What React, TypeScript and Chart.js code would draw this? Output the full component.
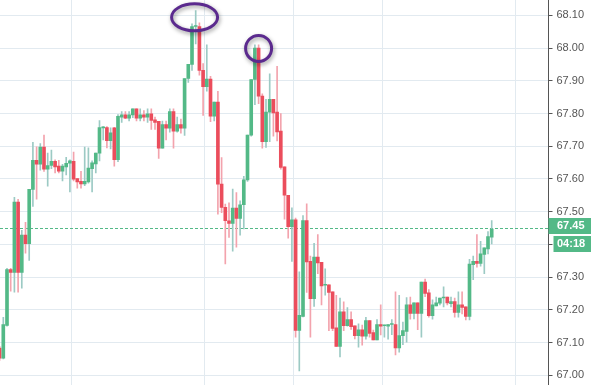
import React, { useEffect, useRef } from "react";
import { Chart, registerables } from "chart.js";

Chart.register(...registerables);

const opens = [
  67.083, 67.052, 67.152, 67.323, 67.314, 67.529, 67.314, 67.428, 67.402, 67.568,
  67.657, 67.645, 67.697, 67.630, 67.641, 67.654, 67.639, 67.624, 67.637, 67.648,
  67.654, 67.601, 67.593, 67.585, 67.591, 67.631, 67.646, 67.679, 67.756, 67.757,
  67.717, 67.756, 67.659, 67.789, 67.796, 67.786, 67.796, 67.814, 67.786, 67.796,
  67.789, 67.799, 67.781, 67.776, 67.694, 67.766, 67.755, 67.806, 67.746, 67.766,
  67.755, 67.907, 67.950, 68.066, 68.066, 67.932, 67.882, 67.905, 67.792, 67.835,
  67.584, 67.513, 67.472, 67.464, 67.511, 67.479, 67.521, 67.597, 67.734, 67.904,
  68.000, 67.853, 67.714, 67.804, 67.843, 67.804, 67.746, 67.637, 67.550, 67.454,
  67.475, 67.137, 67.180, 67.473, 67.348, 67.234, 67.361, 67.345, 67.275, 67.276,
  67.255, 67.145, 67.088, 67.194, 67.151, 67.170, 67.151, 67.121, 67.139, 67.119,
  67.167, 67.130, 67.108, 67.155, 67.151, 67.150, 67.155, 67.155, 67.083, 67.121,
  67.134, 67.215, 67.189, 67.221, 67.189, 67.285, 67.252, 67.182, 67.212, 67.220,
  67.236, 67.239, 67.219, 67.225, 67.192, 67.215, 67.209, 67.180, 67.338, 67.348,
  67.342, 67.369, 67.386, 67.422,
];

const highs = [
  67.088, 67.177, 67.327, 67.327, 67.544, 67.538, 67.443, 67.467, 67.568, 67.712,
  67.698, 67.708, 67.734, 67.679, 67.688, 67.658, 67.657, 67.645, 67.666, 67.658,
  67.682, 67.601, 67.623, 67.697, 67.695, 67.655, 67.679, 67.778, 67.760, 67.760,
  67.756, 67.758, 67.797, 67.806, 67.806, 67.806, 67.814, 67.814, 67.814, 67.809,
  67.814, 67.814, 67.789, 67.776, 67.777, 67.777, 67.814, 67.814, 67.789, 67.783,
  67.907, 67.950, 68.074, 68.115, 68.077, 67.953, 68.010, 67.914, 67.835, 67.868,
  67.665, 67.523, 67.527, 67.569, 67.558, 67.533, 67.608, 67.734, 67.904, 68.010,
  68.010, 67.860, 67.843, 67.921, 67.843, 67.944, 67.800, 67.637, 67.550, 67.512,
  67.480, 67.316, 67.488, 67.524, 67.364, 67.403, 67.430, 67.345, 67.325, 67.276,
  67.255, 67.244, 67.236, 67.224, 67.207, 67.194, 67.151, 67.157, 67.153, 67.177,
  67.167, 67.138, 67.170, 67.215, 67.153, 67.155, 67.170, 67.255, 67.244, 67.162,
  67.237, 67.239, 67.221, 67.221, 67.285, 67.294, 67.262, 67.230, 67.239, 67.236,
  67.270, 67.239, 67.239, 67.236, 67.255, 67.255, 67.209, 67.354, 67.364, 67.430,
  67.409, 67.389, 67.439, 67.473,
];

const lows = [
  67.045, 67.050, 67.150, 67.257, 67.254, 67.254, 67.266, 67.373, 67.351, 67.516,
  67.538, 67.627, 67.623, 67.578, 67.631, 67.618, 67.618, 67.594, 67.612, 67.560,
  67.594, 67.572, 67.572, 67.579, 67.587, 67.560, 67.618, 67.655, 67.719, 67.695,
  67.692, 67.639, 67.653, 67.773, 67.784, 67.777, 67.787, 67.777, 67.777, 67.777,
  67.773, 67.751, 67.751, 67.663, 67.694, 67.719, 67.743, 67.694, 67.743, 67.740,
  67.733, 67.895, 67.932, 68.013, 67.917, 67.794, 67.868, 67.775, 67.777, 67.492,
  67.497, 67.340, 67.421, 67.379, 67.391, 67.428, 67.447, 67.592, 67.731, 67.827,
  67.830, 67.694, 67.696, 67.714, 67.731, 67.716, 67.630, 67.477, 67.419, 67.348,
  67.116, 67.013, 67.178, 67.253, 67.116, 67.210, 67.310, 67.215, 67.245, 67.136,
  67.136, 67.088, 67.056, 67.136, 67.150, 67.140, 67.111, 67.086, 67.092, 67.110,
  67.116, 67.108, 67.108, 67.123, 67.116, 67.110, 67.124, 67.062, 67.070, 67.093,
  67.101, 67.171, 67.172, 67.139, 67.116, 67.240, 67.177, 67.171, 67.212, 67.215,
  67.209, 67.215, 67.209, 67.177, 67.177, 67.187, 67.169, 67.169, 67.292, 67.330,
  67.333, 67.310, 67.371, 67.401,
];

const closes = [
  67.052, 67.155, 67.323, 67.314, 67.529, 67.314, 67.428, 67.402, 67.568, 67.657,
  67.645, 67.697, 67.630, 67.641, 67.654, 67.637, 67.624, 67.639, 67.648, 67.655,
  67.599, 67.591, 67.585, 67.593, 67.633, 67.649, 67.679, 67.757, 67.758, 67.717,
  67.741, 67.659, 67.791, 67.796, 67.786, 67.796, 67.814, 67.786, 67.796, 67.789,
  67.799, 67.779, 67.773, 67.694, 67.766, 67.755, 67.806, 67.746, 67.766, 67.755,
  67.907, 67.950, 68.066, 68.067, 67.932, 67.882, 67.905, 67.792, 67.835, 67.584,
  67.513, 67.472, 67.464, 67.511, 67.479, 67.521, 67.597, 67.734, 67.904, 68.000,
  67.853, 67.714, 67.804, 67.843, 67.802, 67.744, 67.635, 67.550, 67.454, 67.475,
  67.137, 67.183, 67.473, 67.346, 67.234, 67.361, 67.343, 67.273, 67.277, 67.253,
  67.143, 67.088, 67.194, 67.151, 67.170, 67.148, 67.121, 67.139, 67.119, 67.167,
  67.128, 67.108, 67.155, 67.150, 67.152, 67.155, 67.156, 67.083, 67.121, 67.136,
  67.215, 67.189, 67.221, 67.189, 67.285, 67.250, 67.182, 67.215, 67.221, 67.236,
  67.239, 67.221, 67.225, 67.192, 67.215, 67.207, 67.180, 67.340, 67.348, 67.342,
  67.371, 67.389, 67.424, 67.447,
];

const yTicks = [67.0, 67.1, 67.2, 67.3, 67.4, 67.5, 67.6, 67.7, 67.8, 67.9, 68.0, 68.1];
const sessionBreaks = [19.5, 55.5, 79.5, 103.5, 139.5];
const timerLabel = "04:18";
const markIdx = [52.7, 70];
const markPrice = [68.094, 67.999];

const GREEN = "#53b987";
const RED = "#eb4d5c";
const GREEN_WICK = "#9ccac4";
const RED_WICK = "#f3a3ad";
const FONT = 'Arial, "Liberation Sans", sans-serif';

export default function App() {
  const ref = useRef<HTMLCanvasElement | null>(null);

  useEffect(() => {
    document.body.style.margin = "0";
    const canvas = ref.current;
    if (!canvas) return;

    const idx = closes.map((_, i) => i);
    const up = (i: number) => closes[i] >= opens[i];
    const lastPrice = Math.round(closes[closes.length - 1] * 100) / 100;

    const overlay = {
      id: "overlay",
      beforeDatasetsDraw(chart: any) {
        const { ctx, chartArea, scales } = chart;
        const y = Math.round(scales.y.getPixelForValue(lastPrice)) + 0.5;
        ctx.save();
        ctx.strokeStyle = GREEN;
        ctx.lineWidth = 1;
        ctx.setLineDash([3, 2]);
        ctx.beginPath();
        ctx.moveTo(chartArea.left, y);
        ctx.lineTo(chartArea.right, y);
        ctx.stroke();
        ctx.restore();
      },
      afterDraw(chart: any) {
        const { ctx, chartArea, scales, width } = chart;
        const y = Math.round(scales.y.getPixelForValue(lastPrice));
        ctx.save();
        // price box
        ctx.fillStyle = GREEN;
        ctx.fillRect(chartArea.right, y - 10, width - chartArea.right, 16);
        ctx.fillRect(chartArea.right + 5, y + 8, width - chartArea.right - 5, 16);
        ctx.fillStyle = "#ffffff";
        ctx.font = `bold 11px ${FONT}`;
        ctx.textBaseline = "middle";
        ctx.textAlign = "left";
        ctx.fillText(lastPrice.toFixed(2), chartArea.right + 8.5, y - 2);
        ctx.fillText(timerLabel, chartArea.right + 8.5, y + 16);
        // highlight ellipses
        ctx.strokeStyle = "#5b2a8e";
        ctx.lineWidth = 3;
        ctx.shadowColor = "rgba(0,0,0,0.4)";
        ctx.shadowBlur = 4;
        ctx.shadowOffsetX = 1;
        ctx.shadowOffsetY = 2;
        const radii = [
          [23, 13.5],
          [13, 13],
        ];
        markIdx.forEach((m, k) => {
          const cx = scales.x.getPixelForValue(m);
          const cy = scales.y.getPixelForValue(markPrice[k]);
          ctx.beginPath();
          ctx.ellipse(cx, cy, radii[k][0], radii[k][1], 0, 0, Math.PI * 2);
          ctx.stroke();
        });
        ctx.restore();
      },
    };

    const chart = new Chart(canvas, {
      type: "bar",
      data: {
        datasets: [
          {
            label: "body",
            data: idx.map((i) => ({ x: i, y: [opens[i], closes[i]] })) as any,
            backgroundColor: (c: any) => (up(c.dataIndex) ? GREEN : RED),
            barThickness: 3,
            minBarLength: 1,
            borderWidth: 0,
            grouped: false,
          } as any,
          {
            label: "wick",
            data: idx.map((i) => ({ x: i, y: [lows[i], highs[i]] })) as any,
            backgroundColor: (c: any) => (up(c.dataIndex) ? GREEN_WICK : RED_WICK),
            barThickness: 1,
            borderWidth: 0,
            grouped: false,
          } as any,
        ],
      },
      options: {
        animation: false,
        responsive: false,
        maintainAspectRatio: false,
        layout: { padding: 0 },
        plugins: {
          legend: { display: false },
          tooltip: { enabled: false },
        },
        scales: {
          x: {
            type: "linear",
            min: 0.108,
            max: 148.35,
            offset: false,
            ticks: { display: false },
            grid: { color: "#e2eaf0", drawTicks: false, offset: false },
            border: { display: false },
            afterBuildTicks: (s: any) => {
              s.ticks = sessionBreaks.map((v) => ({ value: v }));
            },
          },
          y: {
            type: "linear",
            position: "right",
            min: 66.97,
            max: 68.147,
            grid: { color: "#e2eaf0", tickColor: "#555555", tickLength: 4 },
            border: { display: true, color: "#555555" },
            ticks: {
              color: "#555555",
              font: { size: 11, family: FONT },
              padding: 4,
              callback: (v: any) => Number(v).toFixed(2),
            },
            afterBuildTicks: (s: any) => {
              s.ticks = yTicks.map((v) => ({ value: v }));
            },
            afterFit: (s: any) => {
              s.width = 42.5;
              s.paddingTop = 0;
              s.paddingBottom = 0;
            },
          },
        },
      } as any,
      plugins: [overlay],
    });

    return () => chart.destroy();
  }, []);

  return (
    <div style={{ width: 591, height: 385 }}>
      <canvas ref={ref} width={591} height={385} style={{ display: "block" }} />
    </div>
  );
}
